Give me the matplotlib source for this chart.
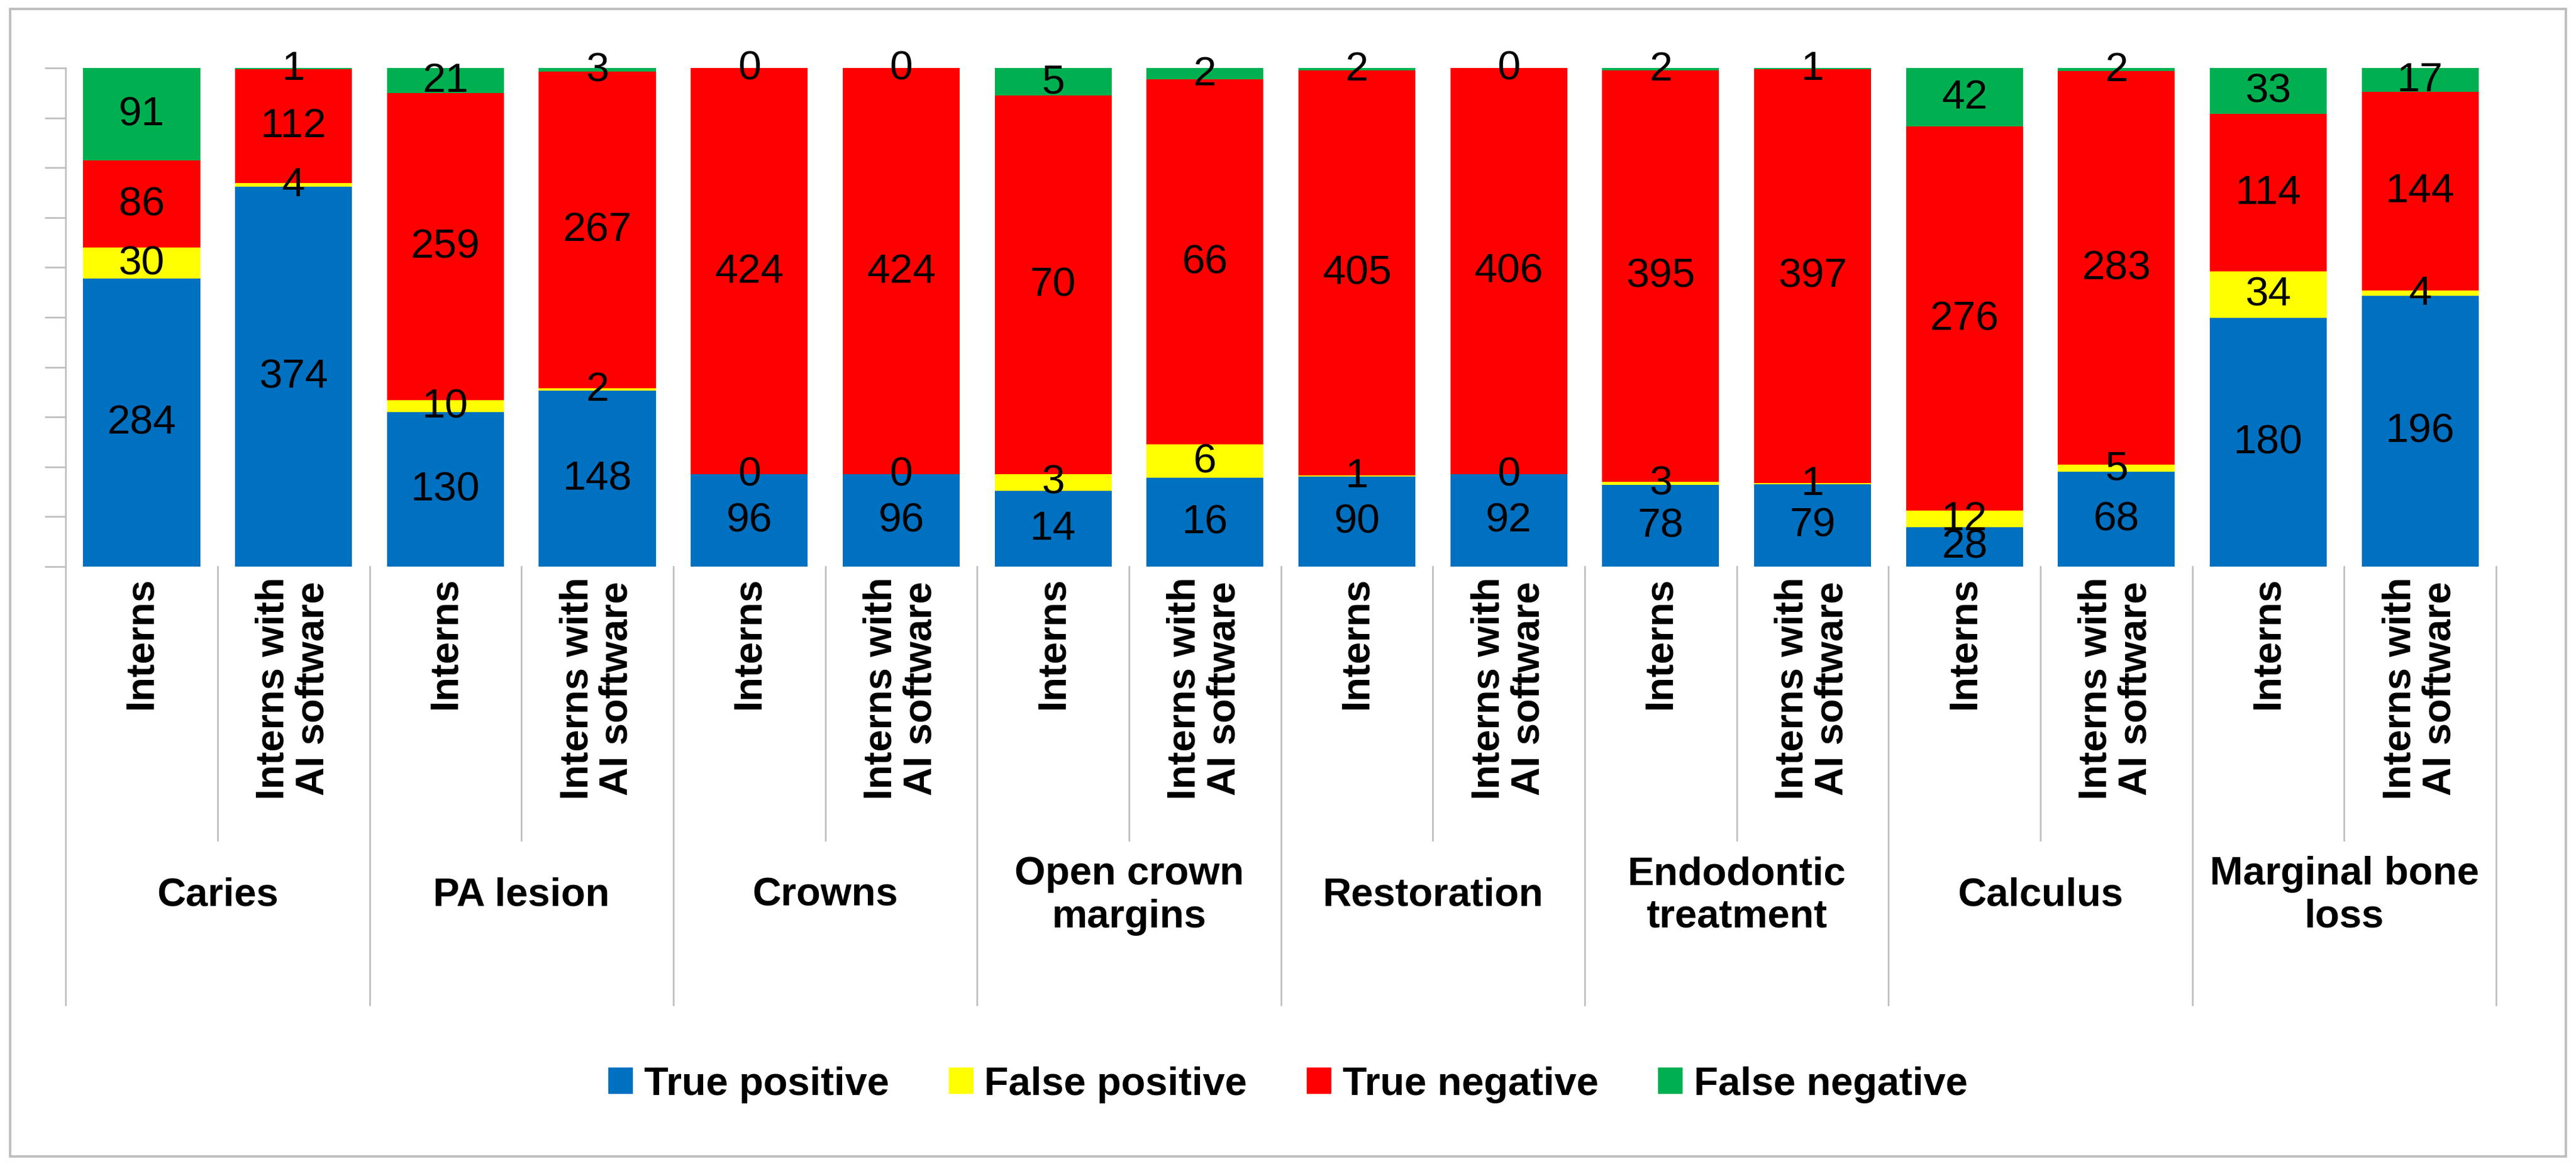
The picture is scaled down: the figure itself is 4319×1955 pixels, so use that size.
import matplotlib
matplotlib.use("Agg")
import matplotlib.pyplot as plt
import numpy as np
from matplotlib.patches import Rectangle
from matplotlib.lines import Line2D

plt.rcParams["font.family"] = "Liberation Sans"

groups = ["Caries", "PA lesion", "Crowns", "Open crown\nmargins", "Restoration",
          "Endodontic\ntreatment", "Calculus", "Marginal bone\nloss"]
sub_labels = ["Interns", "Interns with\nAI software"]
series = ["True positive", "False positive", "True negative", "False negative"]
colors = ["#0070C0", "#FFFF00", "#FF0000", "#00B050"]
true_pos = [284, 374, 130, 148, 96, 96, 14, 16, 90, 92, 78, 79, 28, 68, 180, 196]
false_pos = [30, 4, 10, 2, 0, 0, 3, 6, 1, 0, 3, 1, 12, 5, 34, 4]
true_neg = [86, 112, 259, 267, 424, 424, 70, 66, 405, 406, 395, 397, 276, 283, 114, 144]
false_neg = [91, 1, 21, 3, 0, 0, 5, 2, 2, 0, 2, 1, 42, 2, 33, 17]

data = np.array([true_pos, false_pos, true_neg, false_neg], dtype=float)
tot = data.sum(axis=0)
pct = data / tot * 100

fig = plt.figure(figsize=(43.19, 19.56), dpi=100)
fs = 50
fsb = 48
ax = fig.add_axes([0.0255, 0.514, 0.9435, 0.427])
n = data.shape[1]
x = np.arange(n)
bottom = np.zeros(n)
for i in range(4):
    ax.bar(x, pct[i], 0.77, bottom=bottom, color=colors[i], label=series[i], zorder=2)
    for j in range(n):
        ax.text(x[j], bottom[j] + pct[i][j] / 2, f"{int(data[i][j])}", ha="center",
                va="center", fontsize=fs)
    bottom += pct[i]
ax.set_xlim(-0.5, n - 0.5)
ax.set_ylim(0, 100)
ax.set_xticks([])
ax.set_yticks(np.arange(0, 101, 10))
ax.set_yticklabels([])
ax.tick_params(axis="y", length=25, width=2, color="#BFBFBF", direction="out")
for s in ["top", "right", "bottom"]:
    ax.spines[s].set_visible(False)
ax.spines["left"].set_color("#BFBFBF")
ax.spines["left"].set_linewidth(2)

tr = ax.get_xaxis_transform()
for j in range(n):
    ax.text(x[j], -0.02, sub_labels[j % 2], rotation=90, ha="center", va="top",
            fontsize=fsb, fontweight="bold", transform=tr, linespacing=1.1)
for g in range(len(groups)):
    ax.text(2 * g + 0.5, -0.66, groups[g], ha="center", va="center", fontsize=fsb,
            fontweight="bold", transform=tr, linespacing=1.2)
for k in range(n + 1):
    xx = k - 0.5
    y1 = -0.88 if k % 2 == 0 else -0.55
    ax.add_line(Line2D([xx, xx], [0, y1], transform=tr, color="#BFBFBF", lw=2, clip_on=False))

handles = [Rectangle((0, 0), 1, 1, color=c) for c in colors]
fig.legend(handles, series, loc="center", bbox_to_anchor=(0.5, 0.07), ncol=4,
           frameon=False, handlelength=0.6, handleheight=0.6,
           columnspacing=1.5, handletextpad=0.3, prop={"weight": "bold", "size": fsb})
fig.patches.append(Rectangle((0.004, 0.008), 0.992, 0.984, transform=fig.transFigure,
                             fill=False, edgecolor="#BFBFBF", lw=3))
fig.savefig("out.png", dpi=100)
